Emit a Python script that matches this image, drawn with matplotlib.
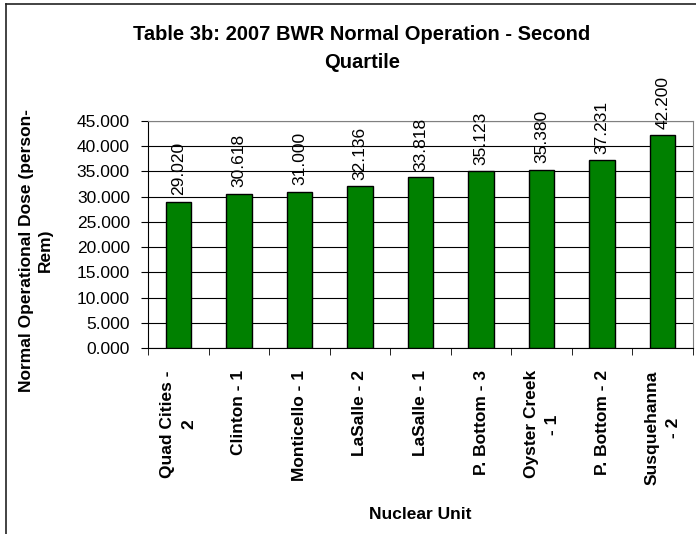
import matplotlib.pyplot as plt
from matplotlib.lines import Line2D

plt.rcParams['font.family'] = ['Liberation Sans', 'DejaVu Sans']

# Chart data
units = ["Quad Cities -\n2", "Clinton - 1", "Monticello - 1", "LaSalle - 2", "LaSalle - 1",
         "P. Bottom - 3", "Oyster Creek\n- 1", "P. Bottom - 2", "Susquehanna\n- 2"]
dose = [29.020, 30.618, 31.000, 32.136, 33.818, 35.123, 35.380, 37.231, 42.200]
yticks = [0, 5, 10, 15, 20, 25, 30, 35, 40, 45]

W, H = 696, 534
fig = plt.figure(figsize=(W / 100, H / 100), dpi=100)
ax = fig.add_axes([148 / W, 1 - 348 / H, 545 / W, 227 / H])

x = list(range(len(units)))
bars = ax.bar(x, dose, width=0.42, color='#008000', edgecolor='black', linewidth=1, zorder=3)
ax.bar_label(bars, fmt='%.3f', rotation=90, padding=4.5, fontsize=12.5)

ax.set_xlim(-0.5, len(units) - 0.5)
ax.set_ylim(0, 45)
ax.set_yticks(yticks)
ax.set_yticklabels([f'{v:.3f}' for v in yticks], fontsize=12.5)
ax.yaxis.grid(True, color='black', linewidth=0.8, zorder=0)

# category labels at centres, tick marks between categories
ax.set_xticks(x)
ax.set_xticklabels(units, rotation=90, fontsize=12.5, fontweight='bold',
                   multialignment='center', linespacing=1.5)
ax.tick_params(axis='x', which='major', length=0, pad=16)
ax.set_xticks([i - 0.5 for i in range(len(units) + 1)], minor=True)
ax.tick_params(axis='x', which='minor', length=5, direction='out')
ax.tick_params(axis='y', length=5, direction='out', pad=8)

for side in ['top', 'right']:
    ax.spines[side].set_color('#808080')
for side in ['left', 'bottom']:
    ax.spines[side].set_color('black')

ax.text(0.5, -0.735, 'Nuclear Unit', transform=ax.transAxes, ha='center', va='center',
        fontsize=12.5, fontweight='bold')
fig.text(36 / W, 1 - 250 / H, 'Normal Operational Dose (person-\nRem)', rotation=90,
         ha='center', va='center', multialignment='center', fontsize=12.5,
         fontweight='bold', linespacing=1.3)
fig.text(362 / W, 1 - 48 / H, 'Table 3b: 2007 BWR Normal Operation - Second\nQuartile',
         ha='center', va='center', multialignment='center', fontsize=14.5,
         fontweight='bold', linespacing=1.6)

# chart border (only top and left edges visible)
fig.add_artist(Line2D([5.5 / W, 5.5 / W], [0, 1 - 3.5 / H], transform=fig.transFigure,
                      color='#222222', linewidth=1.2))
fig.add_artist(Line2D([5.5 / W, 1], [1 - 3.5 / H, 1 - 3.5 / H], transform=fig.transFigure,
                      color='#222222', linewidth=1.2))

fig.savefig('out.png', dpi=100)
